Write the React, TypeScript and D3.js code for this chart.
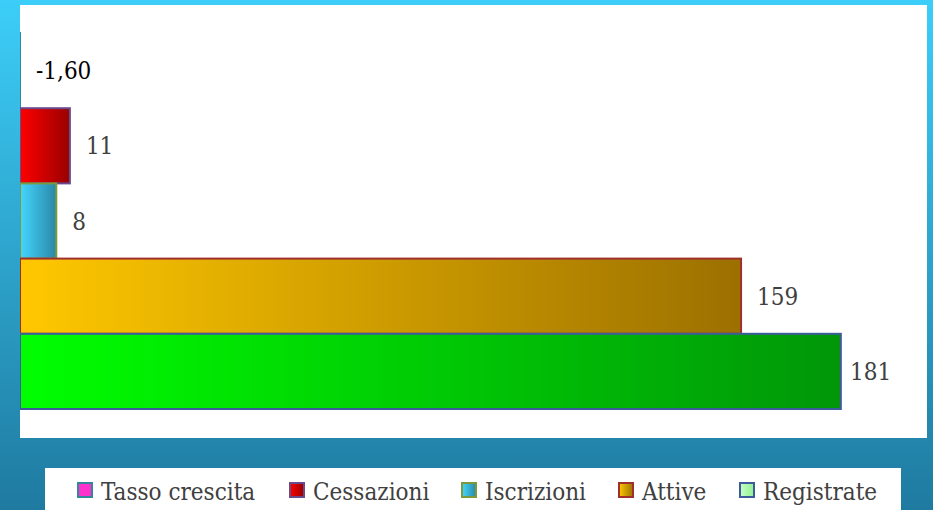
import React from "react";
import * as d3 from "d3";

const categories = ["Tasso crescita", "Cessazioni", "Iscrizioni", "Attive", "Registrate"];
const values = [-1.6, 11, 8, 159, 181];
const labels = ["-1,60", "11", "8", "159", "181"];
const fillsLeft = ["#ff33cc", "#ff0000", "#44d6ff", "#ffc800", "#00ff00"];
const fillsRight = ["#ff33cc", "#980000", "#2a88a6", "#9c7000", "#009608"];
const strokes = ["#34869c", "#6a4a8a", "#7c9a3c", "#a0302c", "#3c5c9c"];
const legendLeft = ["#ff33cc", "#ff0000", "#44d6ff", "#ffc800", "#c8ffc8"];
const legendRight = ["#ff33cc", "#980000", "#2a88a6", "#9c7000", "#90f090"];
const legendX = [78, 290, 462, 619, 740];

const W = 933;
const H = 510;
const FONT = "'DejaVu Serif Condensed', 'DejaVu Serif', serif";

export default function App() {
  const x = d3.scaleLinear().domain([0, 200]).range([20, 927]);
  const y = d3.scaleBand().domain(categories).range([33, 409]).padding(0);
  const bw = y.bandwidth();
  return (
    <svg width={W} height={H} style={{ position: "absolute", left: 0, top: 0 }}>
      <defs>
        <linearGradient id="bg" x1="0" y1="0" x2="0" y2="1">
          <stop offset="0" stopColor="#3ccef8" />
          <stop offset="1" stopColor="#1f7aa0" />
        </linearGradient>
        {categories.map((c, i) => (
          <linearGradient key={c} id={`g${i}`} x1="0" y1="0" x2="1" y2="0">
            <stop offset="0" stopColor={fillsLeft[i]} />
            <stop offset="1" stopColor={fillsRight[i]} />
          </linearGradient>
        ))}
        {categories.map((c, i) => (
          <linearGradient key={c} id={`l${i}`} x1="0" y1="0" x2="1" y2="0">
            <stop offset="0" stopColor={legendLeft[i]} />
            <stop offset="1" stopColor={legendRight[i]} />
          </linearGradient>
        ))}
        <clipPath id="plotclip">
          <rect x={20} y={5} width={907} height={433} />
        </clipPath>
      </defs>
      <rect x={0} y={0} width={W} height={H} fill="url(#bg)" />
      <rect x={20} y={5} width={907} height={433} fill="#ffffff" />
      <g clipPath="url(#plotclip)">
        {categories.map((c, i) => {
          const v = values[i];
          const x0 = x(Math.min(0, v));
          const x1 = x(Math.max(0, v));
          return (
            <rect
              key={c}
              x={x0}
              y={y(c)!}
              width={x1 - x0}
              height={bw}
              fill={`url(#g${i})`}
              stroke={strokes[i]}
              strokeWidth={2}
            />
          );
        })}
      </g>
      {categories.map((c, i) => {
        const v = values[i];
        const lx = Math.min(Math.max(x(v), x(0)) + 16, 850);
        return (
          <text
            key={c}
            x={lx}
            y={y(c)! + bw / 2}
            dy="0.36em"
            fontFamily={FONT}
            fontSize={24}
            fill={v < 0 ? "#000000" : "#404040"}
          >
            {labels[i]}
          </text>
        );
      })}
      <rect x={45} y={468} width={856} height={50} fill="#ffffff" />
      {categories.map((c, i) => (
        <g key={c}>
          <rect
            x={legendX[i]}
            y={483}
            width={14}
            height={14}
            fill={`url(#l${i})`}
            stroke={strokes[i]}
            strokeWidth={2}
          />
          <text x={legendX[i] + 23} y={500} fontFamily={FONT} fontSize={24} fill="#404040">
            {c}
          </text>
        </g>
      ))}
    </svg>
  );
}
